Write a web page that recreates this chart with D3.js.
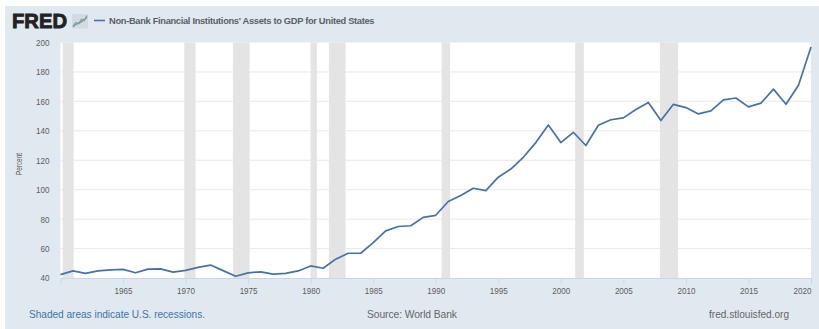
<!DOCTYPE html>
<html>
<head>
<meta charset="utf-8">
<script src="https://cdnjs.cloudflare.com/ajax/libs/d3/7.8.5/d3.min.js"></script>
<style>
html,body{margin:0;padding:0;background:#fff;overflow:hidden}
svg{display:block}
text{font-family:"Liberation Sans",Arial,sans-serif}
</style>
</head>
<body>
<svg id="chart" width="819" height="329"></svg>
<script>
const title = "Non-Bank Financial Institutions' Assets to GDP for United States";
const years = d3.range(1960, 2021);
const assetsToGdp = [
  42.3,44.8,43.2,44.8,45.5,45.9,43.6,46.0,46.2,44.0,
  45.2,47.2,48.8,45.0,41.2,43.5,44.2,42.6,43.2,44.8,
  48.2,46.6,52.8,56.8,56.8,64.0,72.0,75.0,75.5,81.2,
  82.6,92.0,96.0,101.0,99.4,108.5,114.0,122.0,132.0,144.0,
  132.0,139.0,130.0,143.8,147.5,148.8,154.5,159.3,147.0,158.0,
  155.8,151.5,153.5,161.0,162.3,156.3,158.8,168.3,158.0,171.0,197.0
];
const recessions = [
  [1960.17,1961.05],[1969.9,1970.8],[1973.78,1975.12],[1979.99,1980.5],
  [1981.46,1982.79],[1990.47,1991.15],[2001.15,2001.84],[2007.92,2009.38]
];
const yTicks = [40,60,80,100,120,140,160,180,200];
const xTicks = [1965,1970,1975,1980,1985,1990,1995,2000,2005,2010,2015,2020];

const svg = d3.select("#chart");
const panel = "#e1e9f0";
const x = d3.scaleLinear().domain([1960,2020]).range([60.5,811]);
const y = d3.scaleLinear().domain([40,200]).range([278,42.5]);

// page panel behind the plot
svg.append("rect").attr("x",5).attr("y",6).attr("width",814).attr("height",323).attr("fill",panel);
svg.append("rect").attr("x",x(1960)).attr("y",y(200)).attr("width",x(2020)-x(1960)).attr("height",y(40)-y(200)).attr("fill","#fff");

// recession bands
svg.append("g").selectAll("rect").data(recessions).join("rect")
  .attr("x",d=>x(d[0])).attr("width",d=>x(d[1])-x(d[0]))
  .attr("y",y(200)).attr("height",y(40)-y(200)).attr("fill","#e4e4e4");

// horizontal grid
svg.append("g").selectAll("line").data(yTicks.slice(1,-1)).join("line")
  .attr("x1",x(1960)).attr("x2",x(2020)).attr("y1",d=>y(d)).attr("y2",d=>y(d))
  .attr("stroke","#e6e6e6").attr("stroke-width",1).attr("opacity",0.85);

// axes
const yAxis = svg.append("g").attr("transform",`translate(${x(1960)},0)`)
  .call(d3.axisLeft(y).tickValues(yTicks).tickSize(0).tickPadding(11));
yAxis.select(".domain").remove();
yAxis.selectAll("text").attr("font-size",9.2).attr("fill","#5c5c5c")
  .attr("lengthAdjust","spacingAndGlyphs").attr("textLength",d=>d>=100?13.5:9);

const xAxis = svg.append("g").attr("transform",`translate(0,${y(40)})`)
  .call(d3.axisBottom(x).tickValues(xTicks).tickFormat(d3.format("d")).tickSize(6).tickPadding(3));
xAxis.select(".domain").attr("stroke","#ccd6eb").attr("stroke-width",1);
xAxis.selectAll("line").attr("stroke","#ccd6eb");
xAxis.selectAll("text").attr("font-size",9.2).attr("fill","#5c5c5c")
  .attr("lengthAdjust","spacingAndGlyphs").attr("textLength",18);
xAxis.selectAll(".tick").filter(d=>d===2020).select("text").attr("text-anchor","end").attr("dx",0);

svg.append("text").attr("transform","translate(22,164) rotate(-90)")
  .attr("text-anchor","middle").attr("font-size",8.8).attr("fill","#555")
  .attr("textLength",22).attr("lengthAdjust","spacingAndGlyphs").text("Percent");

// series
svg.append("path").datum(years.map((yr,i)=>[yr,assetsToGdp[i]]))
  .attr("fill","none").attr("stroke","#4572a7").attr("stroke-width",1.7).attr("stroke-linejoin","round")
  .attr("d",d3.line().x(d=>x(d[0])).y(d=>y(d[1])));

// FRED wordmark and small logo chart
svg.append("text").attr("x",12).attr("y",28).attr("font-size",21).attr("font-weight",700)
  .attr("fill","#222").attr("stroke","#222").attr("stroke-width",0.9).attr("textLength",55).attr("lengthAdjust","spacingAndGlyphs").text("FRED");

const logo = svg.append("g").attr("transform","translate(72,14)");
logo.append("rect").attr("width",16).attr("height",14.5).attr("fill","#d3dae0");
const logoX = d3.scaleLinear().domain([0,5]).range([1,15]);
const logoY = d3.scaleLinear().domain([0,10]).range([13.5,1]);
[[[0,1],[1,4],[2,3],[3,6.5],[4,5.5],[5,9.5]],[[0,0.5],[1,2.5],[2,3.5],[3,4.5],[4,6.5],[5,8]]].forEach((s,i)=>{
  logo.append("path").datum(s).attr("fill","none").attr("stroke",i?"#6f94bb":"#8ba571").attr("stroke-width",1.2)
    .attr("d",d3.line().x(d=>logoX(d[0])).y(d=>logoY(d[1])));
});

// legend
svg.append("line").attr("x1",94).attr("x2",105).attr("y1",20.5).attr("y2",20.5).attr("stroke","#4572a7").attr("stroke-width",1.6);
svg.append("text").attr("x",109).attr("y",24).attr("font-size",9.3).attr("font-weight",700).attr("fill","#5a5f66")
  .attr("textLength",265.5).attr("lengthAdjust","spacing").text(title);

// footer notes
svg.append("text").attr("x",29).attr("y",318).attr("font-size",10.1).attr("fill","#4572a7").attr("textLength",176).text("Shaded areas indicate U.S. recessions.");
svg.append("text").attr("x",367).attr("y",318).attr("font-size",10.3).attr("fill","#666").attr("textLength",90).text("Source: World Bank");
svg.append("text").attr("x",709).attr("y",318).attr("font-size",10.1).attr("fill","#666").attr("textLength",80).text("fred.stlouisfed.org");
</script>
</body>
</html>
